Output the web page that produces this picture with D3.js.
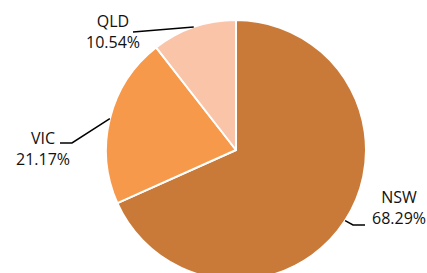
<!DOCTYPE html>
<html>
<head>
<meta charset="utf-8">
<script src="https://cdn.jsdelivr.net/npm/d3@7"></script>
<style>
  body { margin: 0; background: #fff; }
  #pie text { font-family: "Open Sans", sans-serif; font-size: 16px; fill: #111; }
</style>
</head>
<body>
<div id="pie"></div>
<script>
const states = ["NSW", "VIC", "QLD"];
const shares = [68.29, 21.17, 10.54];
const colors = ["#ca7a38", "#f7994b", "#f9c4a8"];

// label anchor (text centre) + where the leader line bends
const labelPos = [
  { x: 399, y: 203, bend: [353, 225], end: [365, 225] },
  { x: 43,  y: 144, bend: [72, 143],  end: [60, 143] },
  { x: 113, y: 27,  bend: null,       end: [133, 32] }
];

const width = 427, height = 273;
const cx = 236, cy = 150, radius = 130;

const svg = d3.select("#pie")
  .append("svg")
  .attr("width", width)
  .attr("height", height);

const g = svg.append("g")
  .attr("transform", "translate(" + cx + "," + cy + ")");

const pie = d3.pie().sort(null).value(d => d);
const arcs = pie(shares);

const arc = d3.arc().innerRadius(0).outerRadius(radius);
const edge = d3.arc().innerRadius(radius).outerRadius(radius);

g.selectAll("path.slice")
  .data(arcs)
  .enter()
  .append("path")
  .attr("class", "slice")
  .attr("d", arc)
  .attr("fill", (d, i) => colors[i])
  .attr("stroke", "#fff")
  .attr("stroke-width", 2)
  .attr("stroke-linejoin", "round");

// leader lines
arcs.forEach((d, i) => {
  const p = edge.centroid(d);
  const lp = labelPos[i];
  const pts = [[p[0] + cx, p[1] + cy]];
  if (lp.bend) pts.push(lp.bend);
  pts.push(lp.end);
  svg.append("path")
    .attr("d", d3.line()(pts))
    .attr("fill", "none")
    .attr("stroke", "#000")
    .attr("stroke-width", 1.5);
});

// labels
const lbl = svg.selectAll("text.lbl")
  .data(arcs)
  .enter()
  .append("text")
  .attr("class", "lbl")
  .attr("text-anchor", "middle")
  .attr("x", (d, i) => labelPos[i].x)
  .attr("y", (d, i) => labelPos[i].y);

lbl.append("tspan")
  .attr("x", (d, i) => labelPos[i].x)
  .text((d, i) => states[i]);

lbl.append("tspan")
  .attr("x", (d, i) => labelPos[i].x)
  .attr("dy", 21)
  .text(d => d.data.toFixed(2) + "%");
</script>
</body>
</html>
